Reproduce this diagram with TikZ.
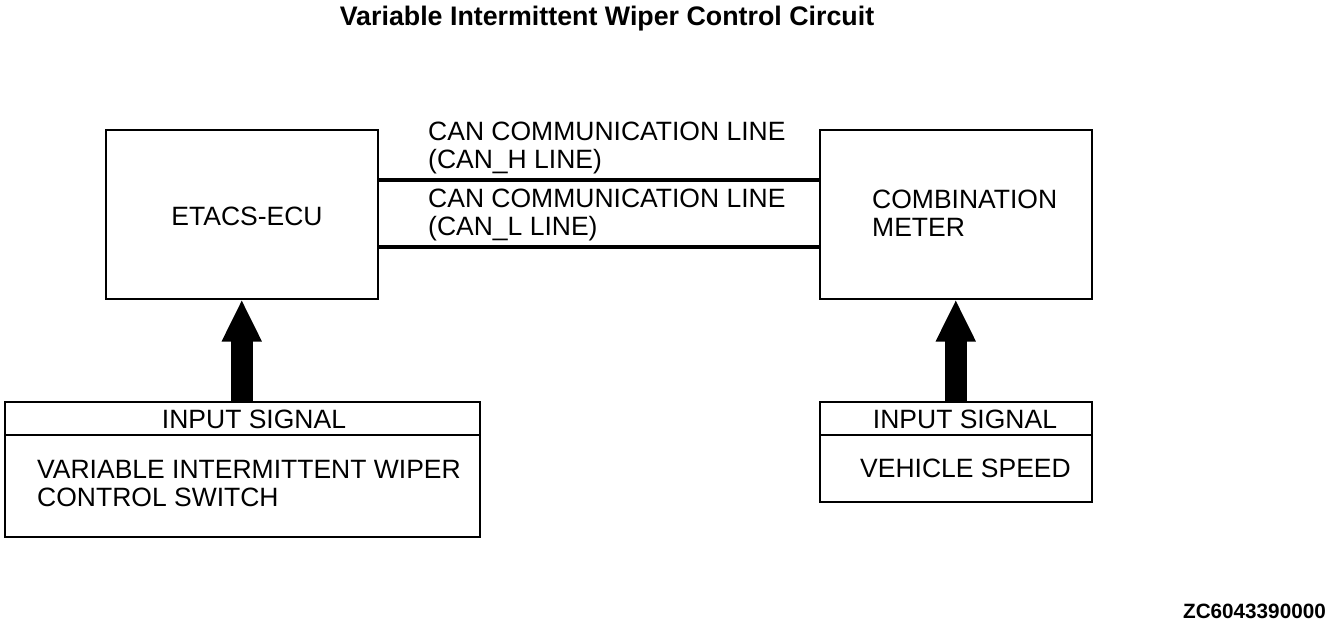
\documentclass[tikz,border=0pt]{standalone}
\usepackage{fontspec}
\setmainfont{Liberation Sans}
\usetikzlibrary{arrows.meta}
\begin{document}
\begin{tikzpicture}[x=1pt,y=-1pt,
  box/.style={draw, line width=1.5pt, anchor=north west, inner sep=0pt},
  txt/.style={inner sep=0pt, font=\fontsize{26.5}{28}\selectfont, align=left},
  bus/.style={line width=4pt},
  bigarrow/.style={line width=22pt, -{Triangle[width=37pt,length=42pt]}}]
\useasboundingbox (0,0) rectangle (1329,624);
\node[inner sep=0pt, font=\bfseries\fontsize{26.8}{30}\selectfont] (title) at (607,19) {Variable Intermittent Wiper Control Circuit};
% main boxes
\node[box, minimum width=272pt, minimum height=169pt] (ecu) at (105,129) {};
\node[box, minimum width=272pt, minimum height=169pt] (meter) at (819,129) {};
\node[txt] (ecut) at (247,216) {ETACS-ECU};
\node[txt, anchor=west] (metert) at (872,213) {COMBINATION\\METER};
% input boxes
\node[box, minimum width=475pt, minimum height=135pt] (in1) at (4,401) {};
\node[box, minimum width=272pt, minimum height=100pt] (in2) at (819,401) {};
\coordinate (d1) at (4,435);
\coordinate (d2) at (819,435);
\draw[line width=1.5pt] (d1) -- (d1 -| in1.east);
\draw[line width=1.5pt] (d2) -- (d2 -| in2.east);
\node[txt] (in1h) at (254,419) {INPUT SIGNAL};
\node[txt] (in2h) at (965,419) {INPUT SIGNAL};
\node[txt, anchor=west] (in1t) at (37,484) {VARIABLE INTERMITTENT WIPER\\CONTROL SWITCH};
\node[txt, anchor=west] (in2t) at (860,468) {VEHICLE SPEED};
% CAN lines
\coordinate (hL) at (377,180);
\coordinate (lL) at (377,247);
\draw[bus] (hL) -- (hL -| meter.west);
\draw[bus] (lL) -- (lL -| meter.west);
\node[txt, anchor=west] (canh) at (428,148) {CAN COMMUNICATION LINE\\(CAN\_H LINE)};
\node[txt, anchor=west] (canl) at (428,215) {CAN COMMUNICATION LINE\\(CAN\_L LINE)};
% arrows
\draw[bigarrow] (in1.north -| ecu.south) -- (ecu.south);
\draw[bigarrow] (in2.north) -- (meter.south);
\node[inner sep=0pt, anchor=east, font=\bfseries\fontsize{20.7}{24}\selectfont] (code) at (1326,611) {ZC6043390000};
\end{tikzpicture}
\end{document}
